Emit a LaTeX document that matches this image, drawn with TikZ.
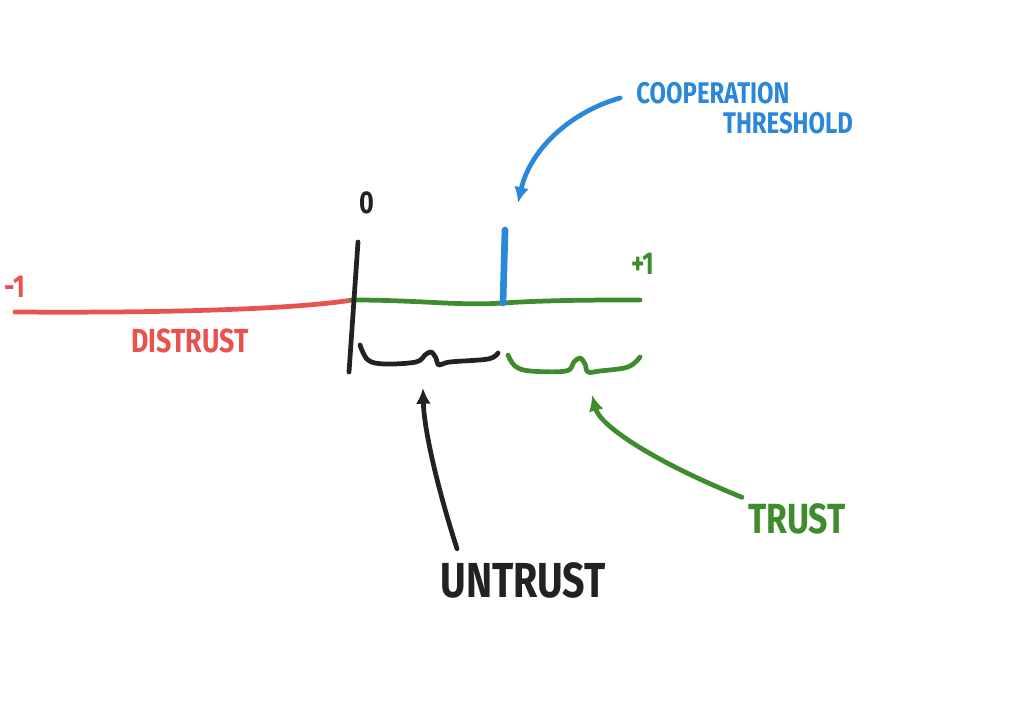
\documentclass[tikz,border=0pt]{standalone}
\usepackage{fontspec}
\newfontfamily\handfont[FakeStretch=0.8]{Fira Sans}
\usetikzlibrary{arrows.meta}
\definecolor{cR}{HTML}{E8524F}
\definecolor{cG}{HTML}{3F8C2E}
\definecolor{cB}{HTML}{2A87D9}
\definecolor{cK}{HTML}{222222}

\begin{document}
\begin{tikzpicture}[x=0.02cm, y=-0.02cm, line cap=round, line join=round,
  pen/.style={line width=2.7pt},
  lab/.style={inner sep=0pt},
  hand/.style={pen, -{Latex[length=9pt,width=8.5pt]}}]
  \useasboundingbox (0,0) rectangle (1024,715);
  % the axis
  \coordinate (neg) at (15,312);
  \coordinate (zero) at (352,300);
  \coordinate (thr) at (503,303);
  \coordinate (pos) at (640,300);
  \draw[pen, cR] (neg) .. controls (150,313) and (290,310) .. (zero);
  \draw[pen, cG] (zero) .. controls (420,300) and (460,306) .. (thr) .. controls (550,300) and (600,300) .. (pos);
  \draw[pen, cK] (358,242) -- (349,372);
  \draw[line width=3.8pt, cB] (505,230) -- (thr);
  % braces under the axis
  \draw[pen, cK] plot[smooth, tension=0.6] coordinates {(360,345) (368,360) (385,364) (416,362) (425,355) (431,352) (436,358) (439,365) (450,362) (488,359) (498,353)};
  \draw[pen, cG] plot[smooth, tension=0.6] coordinates {(508,355) (515,366) (530,371) (566,371) (574,362) (580,358) (585,364) (588,372) (600,371) (628,367) (640,357)};
  % labels
  \node[lab, cR, font=\handfont\bfseries\fontsize{18}{20}\selectfont] (minus) at (15,287) {-1};
  \node[lab, cK, font=\handfont\bfseries\fontsize{18}{20}\selectfont] (zlab) at (367,203) {0};
  \node[lab, cG, font=\handfont\bfseries\fontsize{18}{20}\selectfont] (plus) at (643,264) {+1};
  \node[lab, cR, font=\handfont\bfseries\fontsize{19}{21}\selectfont] (distrust) at (190,341) {DISTRUST};
  \node[lab, cB, font=\handfont\bfseries\fontsize{17}{19}\selectfont] (coop) at (713,93) {COOPERATION};
  \node[lab, cB, font=\handfont\bfseries\fontsize{17}{19}\selectfont] (thresh) at (788,123) {THRESHOLD};
  \node[lab, cK, font=\handfont\bfseries\fontsize{28}{30}\selectfont] (untrust) at (523,580) {UNTRUST};
  \node[lab, cG, font=\handfont\bfseries\fontsize{24}{26}\selectfont] (trust) at (797,519) {TRUST};
  % arrows
  \coordinate (thrtip) at (518,203);
  \coordinate (untip) at (423,388);
  \coordinate (trtip) at (592,395);
  \draw[hand, cB] ([shift={(-16,5)}]coop.west) .. controls (570,112) and (530,150) .. (thrtip);
  \draw[hand, cK] ([shift={(17,-13)}]untrust.north west) .. controls (438,490) and (424,430) .. (untip);
  \draw[hand, cG] ([shift={(-6,-6)}]trust.north west) .. controls (650,460) and (600,425) .. (trtip);
\end{tikzpicture}
\end{document}
